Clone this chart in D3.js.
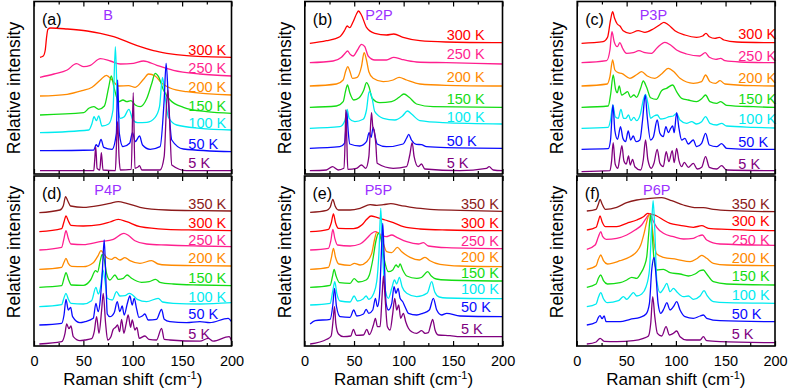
<!DOCTYPE html>
<html><head><meta charset="utf-8">
<script src="https://cdn.jsdelivr.net/npm/d3@7"></script>
<style>body{margin:0;background:#fff}svg{display:block}text{font-family:"Liberation Sans",Arial,Helvetica,sans-serif}</style>
</head><body><svg id="c" width="789" height="390"></svg>
<script>
// ---------- data (Raman shift cm-1, relative intensity incl. stacking offset) ----------
const tempsTop = ["5 K","50 K","100 K","150 K","200 K","250 K","300 K"];
const tempsBottom = ["5 K","50 K","100 K","150 K","200 K","250 K","300 K","350 K"];
const xMajorTicks = [0,50,100,150,200];
const xMinorTicks = [25,75,125,175];
const molecules = ["B","P2P","P3P","P4P","P5P","P6P"];
const panelTags = ["(a)","(b)","(c)","(d)","(e)","(f)"];

// Panel (a) B
const seriesA = [
 [6.05,3.3,60.5,3.3,61.5,14,62.5,27.3,63.9,5.7,66.6,4,68.2,21.3,69.9,4,82.4,3.3,83.7,34,84.7,52.3,86.1,17.3,87.4,4,98.5,4.7,100.5,81.3,102.2,5.7,104.9,6.7,106.9,8.3,109.2,4,127.7,4,131.8,17.3,134.5,74,135.5,84,137.1,57.3,139.5,9,154.6,3.3,200,3.3],
 [6.05,23.3,60.5,24,62.9,29.3,64.9,27.3,67.9,34.7,70.6,26.7,79,24.7,83.4,40.7,84.7,94,86.4,40.7,90.1,27.3,96.8,30.7,99.8,41.3,102.5,32.3,106.9,38,109.9,29,117.6,24.7,127.7,27.3,131.8,74,133.8,110.7,136.1,74,139.5,34,151.3,25,200,22.3],
 [6.05,41.3,55.5,44,58.8,50.7,60.8,57.3,63.2,53.3,65.5,58,68.9,48,75.6,50,80,64,82.4,127.3,84.4,74,87.4,55.7,91.4,57.3,96.1,64.7,100.2,54,104.9,51.3,114.3,51.7,122.7,56.7,127.1,67.3,130.1,96.7,132.8,77.3,136.1,56.7,144.5,49,168.1,45.7,200,44],
 [6.05,59,50.4,61.3,55.5,65.7,60.5,67.3,65.5,64.7,71.3,68,75.6,86.7,78.3,98,81,86.7,85.7,72.3,90.1,74,94.1,72.3,98.2,73.3,102.5,69,107.6,67.3,114.3,75.7,119.3,90.7,122.7,100.7,126.1,97.3,131.1,84,137.8,74,151.3,66.7,174.8,62.3,200,60.7],
 [6.05,78,33.6,79.7,48.7,83.3,58.8,86.7,67.2,94,73.3,98.7,79,94,85.7,88,95.8,88.3,102.5,86.7,110.9,94.7,116,100,122.7,98,129.4,90.7,137.8,86,154.6,82.3,200,79],
 [6.05,96.7,20.2,100,33.6,104,43,110.3,50.4,107.3,57.1,108.7,67.2,115.3,77.3,113,87.4,110,100.8,110.7,110.9,113,124.4,108.7,141.2,103.7,168.1,100,200,98],
 [6.05,116.7,9.4,118,11.4,124,12.8,137.3,14.1,144.7,16.8,146,33.6,145,53.8,143,67.2,140.7,80.7,137.3,94.1,132.3,107.6,127.3,121,123.3,134.5,120.7,154.6,118.3,174.8,117.3,200,116.7]
];
// Panel (b) P2P
const seriesB = [
 [5.1,3.3,21.9,4,28,7.3,33.7,4,39.5,5.7,40.8,34,41.5,64,42.5,34,43.5,4.7,52.3,5.7,57.3,9,61.7,5.7,64.8,17.3,66.1,40.7,67.5,61.3,68.8,47.3,70.2,43.3,71.8,30.7,73.2,10.7,89.4,5.7,102.9,7.3,106.2,19,108.6,31.3,110.6,17.3,114.7,7.3,118,10,121.4,5,156.8,3.3,183.8,5.7,186.5,7.3,190.6,4,200,3.3],
 [5.1,25.7,35.4,27.3,40.1,30.7,41.5,45.7,42.5,62.3,43.8,44,45.5,30,55.6,28,62.4,32.3,65.1,41.3,67.1,36.7,69.1,46.7,71.2,37.3,73.2,30,82.6,27.3,99.5,30,102.9,35.7,105.2,39.7,107.9,34,113,29.7,118,29.3,123.1,27.3,143.3,26.3,200,25.7],
 [5.1,45.7,35.4,47.3,40.5,53.3,42.8,64.7,44.9,55.7,50.6,52.3,59,54.7,62.4,64,65.1,82.3,67.8,77.3,70.8,62.3,79.3,55.7,91.1,54,98.8,58,103.9,63,108.3,59.7,116.4,53.3,140,51.3,200,50],
 [5.1,66.7,32,68,38.8,72.3,41.1,82.3,43.2,89,45.5,81.3,49.6,74,55,76.3,59.7,84,62.4,91.3,65.1,86.7,68.1,75.7,75.9,71.3,87.7,72.3,95.4,76.7,100.2,80,105.6,76.7,113,70,129.8,67.3,200,66.7],
 [5.1,88,32,90,38.8,94,41.5,103.3,43.5,107.3,45.5,103,48.2,95.7,53,96.7,57.3,107.3,60,121.3,62.4,114,64.8,102.3,69.1,95.7,79.3,92.3,89.4,94,95.4,96.7,102.9,94,116.4,90,143.3,88.7,200,88],
 [5.1,111.3,28.7,113,37.1,116.7,40.8,120.7,43.2,123,45.9,119.7,48.9,118,53.3,124,57.3,129.7,60.7,127.3,64.1,118,70.8,114,82.6,114,90,116.7,97.8,114.7,113,112,143.3,111.3,200,110],
 [5.1,130.7,21.9,133.3,35.4,137.3,40.5,144,42.8,148,45.5,146.3,48.9,152.3,52.3,160,54.3,163,57.3,159,62.4,146.7,70.8,140.7,82.6,139,90,140,99.5,136.7,116.4,133.3,143.3,132,200,131.3]
];
// Panel (c) P3P
const seriesC = [
 [4.4,2.3,33.1,3.3,34.7,12.3,36.4,31.3,38.4,10,41.1,5.7,43.2,17.3,45.2,28.3,47.2,13.3,49.6,10,51.9,18,53.6,9,56,14.7,58.3,7.3,64.1,4,66.8,14,69.1,34,71.5,14,74.9,5.7,77.6,10.7,80.9,24.7,83.6,10.7,87,7.3,90,22.3,92.7,12.3,96.1,23.3,98.1,11.3,100.5,25.7,102.9,13.3,105.6,7.3,108.3,11.7,112.3,6.7,117.4,10.7,121.4,5,125.8,6.7,129.8,17.3,133.6,6.7,141,5,146,8.3,151.1,4,200,3.3],
 [4.4,24.7,31.4,25.3,33.7,34,36.1,69,38.1,43.3,40.8,34.7,43.8,47.3,46.2,35.7,48.9,32.3,51.6,43,54,34,56.7,38,59.4,32.3,63.4,34,66.1,54,68.8,79,70.8,57.3,74.2,34,76.9,36.7,80.9,54,83.6,40.7,87,37.3,89.7,47.3,92.1,41.3,94.4,45.3,96.5,48,98.1,41.3,100.5,61.3,102.9,45.7,105.6,34,108.9,35.7,112.3,30,117.4,34,120.7,27.3,125.8,30.7,129.8,40.7,133.6,29,141,27.3,146,30.3,151.1,25.7,178.1,24.7,200,24.7],
 [4.4,45.7,31.4,46.7,33.7,54,36.1,69,38.4,57.3,41.5,55.7,44.2,64.7,46.9,55.7,49.2,55.7,51.9,59,54.3,53.3,57.3,56.7,60,53.3,64.1,60.7,66.8,74,69.1,79.7,71.5,70.7,74.2,55.7,77.6,58,81,59,84.3,55,88.7,55.7,93.1,57.3,97.1,58,100.5,60.7,103.9,54,110.6,50.7,115.7,52.3,120.7,50,125.8,52.3,129.8,57.3,134.2,50.7,141,49,146,50.7,151.1,48,178.1,46.7,200,46],
 [4.4,66.7,31.4,68,33.7,79,36.4,99,38.8,84.7,40.5,81.3,42.5,88,44.9,79,48.2,80.7,50.9,82.3,54,76.7,57.3,79,60,76.7,64.1,85.7,66.8,93,70.2,86.7,74.2,76.3,80.3,74.7,85.3,83.3,90.4,85.7,96.5,89,100.5,82.3,105.6,75.7,112.3,74,120.7,72.3,125.8,75.3,129.8,79,134.2,72.3,141,70.7,145,72.3,151.1,68.7,178.1,67.3,200,66.7],
 [4.4,88,30.4,90,33.1,97.3,35.8,114,38.1,104,41.5,101.3,44.9,100.7,53.3,95.7,60,99.3,65.1,102.3,70.8,98,78.6,95.7,85.3,100,92.1,105.7,97.8,102.3,103.9,95.7,117.4,90.7,125.8,92.3,129.8,99,134.2,92.3,140,90.7,144.4,93.3,149.4,90,178.1,88.3,200,88],
 [4.4,111.3,29.7,113.3,33.1,124,35.1,142.3,37.4,132.3,40.5,127.3,43.2,131.3,45.9,125.7,49.9,120.7,56.7,121.3,62.4,123.3,68.5,121.3,75.2,120.7,80.9,126.3,88.7,131.7,94.4,129,100.5,124,110.6,120,124.1,118,129.5,121.3,133.6,116.7,140.3,114.7,145,115.7,149.4,113.3,164.6,112,200,111.3],
 [4.4,130.7,26.3,132.3,30.7,136.7,33.7,154,35.8,162.3,37.8,155.7,40.5,150,43.2,148,46.5,143.3,53.3,140.7,61.7,143.3,68.5,141.7,76.9,145,83.6,149.3,87.7,151.7,92.1,149.3,98.8,143.3,108.9,139,120.7,136.7,126.8,138,130.2,140.7,133.6,137.3,139.3,135.7,143.7,136.7,148.4,134,161.2,132,200,131.3]
];
// Panel (d) P4P
const seriesD = [
 [5.4,2,28,4.3,31.4,12.7,33.1,22,35.4,17.3,37.4,20,39.8,9.3,46.5,5.3,51.6,6,58.4,7.3,61,14.3,63.4,29.3,65.8,12.7,68.5,36,70.1,52.7,72.5,22.7,74.6,6,77.9,9.3,80.2,16.7,82.6,18.7,84.6,21,86.7,14.3,88.7,26.7,91,12.7,93.4,22.7,95.4,31,97.8,18.7,99.5,26,102.2,16,104.2,18.7,106.6,7.7,112.3,10,116.3,6.7,124.1,6,129.2,17.7,131.9,6.7,137.6,6,168,4.8,176.4,7.7,181.4,4.8,197.6,9.3,200,5.3],
 [5.4,21,28,22.7,30.4,31,32.4,46.7,34.7,36,37.1,38.7,39.1,29.3,46.5,23.3,51.6,24.3,60,27.7,62.7,42.7,65,34.3,67.1,46,69.1,72.7,71.1,106,72.8,66,74.2,32,76.9,29.3,81.2,33.3,84.3,44.3,86.9,34.3,89.3,40,91.3,31,94.7,43.3,97.1,50,99.4,41,101.5,47.7,103.8,37.7,106.2,28.7,109.6,30,112.3,32,115.6,26,124.1,26.7,129.2,36.7,131.9,26.7,137.6,24.3,154.5,23.3,168,24.3,178,23.3,196.6,27.7,200,24.3],
 [5.4,39.3,28,41.3,30.4,48.3,32.4,52.7,34.7,47,37.4,42.7,49.9,42,58.3,45.3,62.7,58.7,65.1,52,67.5,59.3,69.8,76,72.2,62.7,74.2,47.7,79.3,46,83.6,54.3,87,50,92.1,50.3,96.5,52.7,99.8,51,104.6,46.7,114,44.3,125.8,47.7,130.2,44,141,42.7,168,42,200,43.3],
 [5.4,58.7,28,60.3,30.4,67.7,32.4,73.3,35.1,66,37.8,61,49.9,60.7,57.3,66,62.4,75.3,64.4,74,67.1,85.3,69.1,91.7,71.2,86,73.5,72.7,76.9,66,82,71,85.3,66.7,90.4,67.7,94.4,71,98.8,67.7,108.9,63.7,116.7,64.3,123.1,66.7,127.5,63.7,141,62,168,61,200,60.3],
 [5.4,76.7,28,78.7,30.4,83.7,32.4,87.7,34.7,82.7,38.1,79.7,49.9,79.3,60,83.3,65.1,90.7,67.8,95.3,70.8,92,74.2,88,78.6,86.7,82,88.7,87,86,92.1,88.3,97.1,85.3,107.3,82.7,119.1,85.3,125.8,82,134.2,81,168,80.3,200,80],
 [5.4,96,28,98.7,30.4,107.7,32.4,115.3,34.7,107.7,37.4,102,49.9,101.3,66.8,104.3,80.3,106.7,91.1,112.7,95.4,110.7,102.2,105.3,114,102,134.2,101,168,100,200,99.3],
 [5.4,114.3,28,117.3,30.4,124.3,32.4,130,34.7,125.3,37.4,120.7,49.9,120,66.8,121.3,76.9,124,85.3,126.7,93.8,124.3,107.3,119.3,134.2,116.7,168,116,200,115.3],
 [5.4,133.3,26.3,136,29.7,140.3,32,149.3,34.1,145.3,37.1,140,49.9,138.7,66.8,140.7,76.9,142.7,85.3,144.3,93.8,142.7,107.3,138.7,134.2,136,168,135.3,200,135]
];
// Panel (e) P5P
const seriesE = [
 [5.7,2,22.5,6.7,26.9,10,28.9,26,30.3,39.3,31.6,22.7,34.3,12,39.3,9.3,46.7,10,49.4,16.7,52.1,10.7,59.5,11,62.9,16.7,65.5,11.3,69.6,21,71.6,27.7,73.6,19.3,76.3,19.3,78.3,49.3,79.7,70,81.3,49.3,83.7,19.3,86.4,16,89.1,32.7,91.1,47.7,93.1,36,95.1,41,97.1,27.7,99.8,32.7,102.2,24.3,104.9,17.7,108.2,14.3,113.3,12.7,118.3,15.3,121.7,12.7,125,13.3,127.4,21,129.4,26.7,131.8,16,135.1,11,146.9,10.3,157,9.3,200,9.3],
 [5.7,22,10.8,25.3,25.9,26.7,28.6,41,30.3,57.7,32.3,39.3,36,29.3,46,28.7,49.7,36,52.8,30,59.5,32,62.2,36.7,64.9,32.7,68.9,36,71.6,47.7,73.6,39.3,75.6,49.3,77.6,92.7,79,122.7,80.3,92.7,82.4,42.7,84.7,36,88.1,42.7,90.4,59.3,92.4,52.7,94.5,57.7,96.5,47.7,99.2,44.3,101.5,39.3,104.9,32.7,113.3,31,119.3,32.7,126,36,130.1,47.7,133.5,36,138.5,31,143.5,32.7,157,30,200,29.3],
 [5.7,41,25.9,42.7,28.6,55.3,30.6,64.3,32.6,52.7,36,45,46,44,50.1,50,53.4,45,59.5,47.3,62.2,50,64.9,46.7,69.6,52,72.9,64.3,75.3,96,77,137.7,78.7,96,81,59.3,84.7,47.7,88.1,57.7,90.8,66,93.1,62,95.8,68.7,98.5,59.3,103.2,52.7,113.3,49.3,124,53,128.4,64.3,131.5,54,136,49,143.5,48,200,47.3],
 [5.7,58.7,25.9,60.7,28.2,69.3,29.9,76.7,31.9,70,35.3,63.3,46,62.7,50.1,67.3,54.5,64,62.2,66,65.5,71,68.9,86,72.3,106,74.6,112.7,77,107.7,80.3,87.7,84.7,74.3,89.1,76,92.4,81,94.8,78.7,96.5,82,99.2,76,103.2,70,113.3,67.7,118,68.5,124.4,74.3,128,70,133,67,143.5,66,200,65],
 [5.7,76.7,24.2,78.7,27.2,88.7,29.2,97.7,31.3,88.7,34.6,82,46,80.7,50.4,82.7,56.1,81,62.9,84.3,67.9,92.7,70.6,106,72.9,113.7,75.6,112,79,104.3,83,94.3,88.1,93.3,93.8,98.7,98.2,94.3,106.6,88.7,116,86,121.7,88.7,126.7,85.3,136.8,81.7,157,80,200,79.3],
 [5.7,96,24.2,97.7,26.6,105.3,28.6,116.7,30.6,107.7,33.3,101,46,100,56.1,102,62.9,107.7,67.9,112.7,71.3,114.3,76.3,112,82.4,109.3,88.1,111,93.1,108.7,103.2,104.3,115,102,120,103.3,125,100,143.5,98.3,200,97.3],
 [5.7,114.3,24.2,116.7,26.9,122.7,29.2,132,31.3,123.3,34.3,117.7,49.4,117.3,57.8,121,62.9,126.7,67.2,130,72.9,128.7,81.3,126,89.7,123.3,99.8,119.3,116.6,117,143.5,116,200,115.3],
 [5.7,133.7,22.5,135.7,25.9,138.7,28.6,146.7,30.9,140,34.3,136,46,136,56.1,137.7,66.2,141.3,72.9,140.7,79.7,141.3,87.1,142.3,96.5,140.7,109.9,138.3,126.7,136.7,157,135.7,200,134.7]
];
// Panel (f) P6P
const seriesF = [
 [10.1,2,19.5,4,23.5,7.7,27.6,4.7,40.3,4.3,57.1,5.3,67.2,7.7,72.3,10,74.6,22.7,76.6,49.3,78.7,29.3,81.3,12.7,85.7,10,90.1,19.3,93.4,11,97.5,12.7,100.8,15,104.2,9.3,110.9,6,124.4,6,127.7,9.3,131.1,5.3,144.5,4.3,200,3.3],
 [10.1,21,19.5,23.7,21.8,28.7,23.5,30.3,25.5,27.3,27.6,30,29.6,24.3,43.7,24.3,53.8,26.7,63.9,28.7,69.9,32,73.3,42.7,75.6,76,78,88.7,80,69.3,82,42.7,84.7,32.7,88.1,37.7,90.8,43.3,94.1,36,97.5,39.3,100.8,44.3,104.2,36,109.2,29.3,117.6,27.7,124.4,30,127.7,31,131.1,27.7,144.5,25.3,200,24.3],
 [10.1,39.3,19.5,42,21.8,48.7,24.2,53.3,26.9,47.3,30.9,43.3,42,45.3,47.1,49.3,50.4,46.7,53.8,50,57.1,53.3,60.5,50,65.5,52,69.9,59.3,73.3,76,75.3,116,77,145.3,78.7,116,80.7,66,84,53.3,88.1,58.3,90.8,62.7,94.1,54.3,97.5,57.7,100.8,54.3,107.6,49.3,112.6,50,117.6,46.7,124.4,50,128.4,55.3,131.8,50,137.8,44.3,151.3,43.3,200,42.7],
 [10.1,58.7,19.5,62,21.8,67.7,24.2,71,26.9,65.3,30.9,62,43.7,63.3,50.4,66,55.5,68.7,60.5,67.7,64.5,72.7,67.9,79.3,70.6,89.3,72.6,112.7,74.3,131,76,112.7,78,86,80.7,76,87.4,76.7,94.1,73.3,104.2,72,112.6,70,119.3,72,124.4,75.3,127.7,76,131.1,72,137.8,64.3,151.3,62,200,61],
 [10.1,76.7,19.5,80.3,21.8,86.7,24.2,91,26.9,85.3,30.9,82,43.7,85.3,53.8,89.3,60.5,94.3,64.5,101,67.9,112.7,70.6,124.3,73.3,131.7,75.6,122.7,78,102.7,80.7,92,87.4,88.7,100.8,86.7,114.3,84.3,121,87.3,126.1,90.7,131.1,87.7,137.8,82.7,151.3,81,200,80.3],
 [10.1,96.7,18.5,101,21.8,109.3,24.2,114.3,26.2,109.3,29.6,106.7,40.3,107.7,50.4,111,58.8,116,65.5,121,70.6,128.7,73.9,132,76.6,126,80.7,118.7,87.4,112.7,97.5,109.3,107.6,107,117.6,107.7,122.7,110,126.7,111,131.1,106,144.5,102,200,100.7],
 [10.1,116,19.5,118.7,21.8,125.3,23.5,130,25.5,124.3,28.9,119.3,40.3,119.3,50.4,122.7,60.5,126,67.2,129.3,71.6,132.7,75.6,131.7,80.7,130,87.4,126,94.1,122.7,104.2,120.7,117.6,118.7,126.1,120.3,132.8,117.7,151.3,116.7,200,115.3],
 [10.1,135,19.5,136.7,21.8,142,23.5,146.7,25.5,142,28.9,136.7,40.3,138.7,50.4,143.3,60.5,146,73.9,147.7,85.7,148.3,95.8,145.3,107.6,141,121,138.3,127.7,138.3,137.8,136.7,158,135.3,200,134.3]
];

// temperature-label heights (same units as the intensities), 5 K upward
const labelLevelsA = [11,30,51,68,87,106,124];
const labelLevelsB = [11,33,57,75,97,120,139];
const labelLevelsC = [10.7,32.3,55.7,75.7,96.3,118.3,140.7];
const labelLevelsD = [12.7,32,49.3,68.7,88.7,106.7,123.3,142.7];
const labelLevelsE = [17.7,39,57.5,73.5,89.5,105.3,123.3,142.7];
const labelLevelsF = [12,32,51,70,88.7,106.7,125.3,142.7];

// ---------- styling / layout ----------
const tempColors = {"5 K":"#80007f","50 K":"#0a0aff","100 K":"#00ebf0","150 K":"#14dc14","200 K":"#ff8a00",
  "250 K":"#ff1f8f","300 K":"#ff0000","350 K":"#8b1a1a"};
const molColor = "#9b30ff";
const font = '"Liberation Sans",Arial,Helvetica,sans-serif';

const panels = [
 {series:seriesA, levels:labelLevelsA, temps:tempsTop, left:34,   right:231.5, top:1.5, bottom:174, ymax:172.5, labelX:156.3, titleX:75,  bottomRow:false},
 {series:seriesB, levels:labelLevelsB, temps:tempsTop, left:304.8, right:502.5, top:1.5, bottom:174, ymax:172.5, labelX:143.6, titleX:75,  bottomRow:false},
 {series:seriesC, levels:labelLevelsC, temps:tempsTop, left:577.2, right:775,   top:1.5, bottom:174, ymax:172.5, labelX:162.9, titleX:77,  bottomRow:false},
 {series:seriesD, levels:labelLevelsD, temps:tempsBottom, left:34,   right:231.5, top:176, bottom:346, ymax:170, labelX:156.3, titleX:75,  bottomRow:true},
 {series:seriesE, levels:labelLevelsE, temps:tempsBottom, left:304.5, right:502.6, top:176, bottom:346, ymax:170, labelX:158,   titleX:74.6, bottomRow:true},
 {series:seriesF, levels:labelLevelsF, temps:tempsBottom, left:576.8, right:775,   top:176, bottom:346, ymax:170, labelX:156.3, titleX:80.7, bottomRow:true}
];

const svg = d3.select("#c");
const defs = svg.append("defs");

panels.forEach((p, pi) => {
  const x = d3.scaleLinear().domain([0,200]).range([p.left, p.right]);
  const y = d3.scaleLinear().domain([0,p.ymax]).range([p.bottom, p.top]);
  const g = svg.append("g");
  const cid = "clip" + pi;
  defs.append("clipPath").attr("id", cid).append("rect")
    .attr("x", p.left).attr("y", p.top).attr("width", p.right - p.left).attr("height", p.bottom - p.top);

  const line = d3.line().x(d => x(d[0])).y(d => y(d[1])).curve(d3.curveMonotoneX);
  const plot = g.append("g").attr("clip-path", `url(#${cid})`);
  for (let i = p.series.length - 1; i >= 0; i--) {
    const flat = p.series[i];
    const pts = [];
    for (let k = 0; k < flat.length; k += 2) pts.push([flat[k], flat[k+1]]);
    plot.append("path").attr("d", line(pts)).attr("fill","none")
      .attr("stroke", tempColors[p.temps[i]]).attr("stroke-width",1.3).attr("stroke-linejoin","round");
    g.append("text").attr("x", x(p.labelX)).attr("y", y(p.levels[i])).attr("dy","0.36em")
      .attr("fill", tempColors[p.temps[i]]).style("font-size","14.5px").text(p.temps[i]);
  }

  // ticks (inward), bottom and top
  const axB = d3.axisBottom(x).tickValues(xMajorTicks).tickSize(-5).tickPadding(p.bottomRow ? 9.5 : 0);
  const gb = g.append("g").attr("transform", `translate(0,${p.bottom})`).call(axB);
  gb.select(".domain").remove();
  gb.selectAll("line").attr("stroke","#000").attr("stroke-width",1.2);
  if (p.bottomRow) gb.selectAll("text").style("font-size","14.5px").attr("fill","#000").style("font-family",font);
  else gb.selectAll("text").remove();
  const gbm = g.append("g").attr("transform", `translate(0,${p.bottom})`)
    .call(d3.axisBottom(x).tickValues(xMinorTicks).tickSize(-3).tickFormat(""));
  gbm.select(".domain").remove(); gbm.selectAll("line").attr("stroke","#000").attr("stroke-width",1.2);

  const gt = g.append("g").attr("transform", `translate(0,${p.top})`)
    .call(d3.axisTop(x).tickValues(xMajorTicks).tickSize(-5).tickFormat(""));
  gt.select(".domain").remove(); gt.selectAll("line").attr("stroke","#000").attr("stroke-width",1.2);
  const gtm = g.append("g").attr("transform", `translate(0,${p.top})`)
    .call(d3.axisTop(x).tickValues(xMinorTicks).tickSize(-3).tickFormat(""));
  gtm.select(".domain").remove(); gtm.selectAll("line").attr("stroke","#000").attr("stroke-width",1.2);

  // frame
  g.append("rect").attr("x", p.left).attr("y", p.top).attr("width", p.right - p.left).attr("height", p.bottom - p.top)
    .attr("fill","none").attr("stroke","#000").attr("stroke-width",1.6);

  // panel tag and molecule title
  g.append("text").attr("x", p.left + 8).attr("y", p.top + 23).style("font-size","16px").attr("fill","#000").text(panelTags[pi]);
  g.append("text").attr("x", x(p.titleX)).attr("y", p.top + 18.5).attr("text-anchor","middle")
    .style("font-size","14.5px").attr("fill", molColor).text(molecules[pi]);

  // y title
  const cy = p.bottomRow ? 252 : 88;
  g.append("text").attr("transform", `translate(${p.left - 20},${cy}) rotate(-90)`)
    .attr("text-anchor","middle").attr("dy","0.35em").style("font-size","17.5px").attr("fill","#000").text("Relative intensity");

  // x title
  if (p.bottomRow) {
    const t = g.append("text").attr("x", (p.left + p.right) / 2).attr("y", 385).attr("text-anchor","middle")
      .style("font-size","17px").attr("fill","#000");
    t.append("tspan").text("Raman shift (cm");
    t.append("tspan").attr("dy","-6").style("font-size","11px").text("-1");
    t.append("tspan").attr("dy","6").text(")");
  }
});
</script></body></html>
